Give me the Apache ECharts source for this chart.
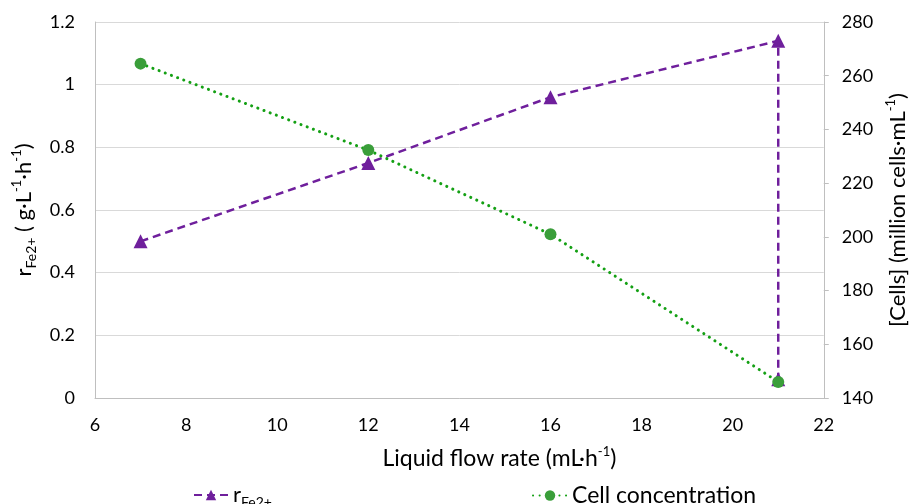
<!DOCTYPE html>
<html>
<head>
<meta charset="utf-8">
<script src="https://cdn.jsdelivr.net/npm/echarts@6/dist/echarts.min.js"></script>
<style>
  html, body { margin: 0; padding: 0; background: #fff; }
  #chart { width: 917px; height: 504px; }
</style>
</head>
<body>
<div id="chart"></div>
<script>
// Liquid flow rate (mL·h-1)
const flowRate = [7, 12, 16, 21, 21];
// Fe2+ oxidation rate (g·L-1·h-1), same x positions as flowRate
const rateFe = [0.5, 0.75, 0.96, 1.14, 0.06];
// Cell concentration (million cells·mL-1)
const cellFlow = [7, 12, 16, 21];
const cellConc = [264.5, 232.3, 201, 146];

const xTicks = { min: 6, max: 22, interval: 2 };
const yLeftTicks = { min: 0, max: 1.2, interval: 0.2 };
const yRightTicks = { min: 140, max: 280, interval: 20 };

const FONT = 'Lato';
const PURPLE = '#6f1f9c';
const GREEN_LINE = '#14a014';
const GREEN_DOT = '#3a9e3a';
const AXIS_GREY = '#bfbfbf';
const GRID_GREY = '#d9d9d9';

const chart = echarts.init(document.getElementById('chart'), null, { renderer: 'canvas' });

const supStyle = { fontFamily: FONT, fontSize: 13, color: '#000', verticalAlign: 'top', lineHeight: 28 };
const subStyle = { fontFamily: FONT, fontSize: 14, color: '#000', verticalAlign: 'bottom', lineHeight: 28, padding: [11, 0, 0, 0] };
const nStyle = { fontFamily: FONT, fontSize: 22, color: '#000', lineHeight: 28 };

chart.setOption({
  animation: false,
  backgroundColor: '#fff',
  textStyle: { fontFamily: FONT },
  grid: { left: 95, right: 88, top: 22, bottom: 106, containLabel: false },
  legend: [
    {
      data: ['rFe2+'],
      left: 188, top: 479,
      itemWidth: 34, itemHeight: 13,
      formatter: () => '{r|r}{sub|Fe2+}',
      textStyle: { fontFamily: FONT, fontSize: 22, color: '#000', rich: { r: nStyle, sub: subStyle } }
    },
    {
      data: ['Cell concentration'],
      left: 527, top: 479,
      itemWidth: 34, itemHeight: 13,
      textStyle: { fontFamily: FONT, fontSize: 23, color: '#000' }
    }
  ],
  xAxis: {
    type: 'value',
    min: xTicks.min, max: xTicks.max, interval: xTicks.interval,
    name: 'Liquid flow rate (mL·h{sup|-1})',
    nameLocation: 'middle', nameGap: 47,
    nameTextStyle: {
      fontFamily: FONT, fontSize: 23, color: '#000',
      padding: [0, 0, 0, 80],
      rich: { sup: supStyle }
    },
    axisLine: { show: true, lineStyle: { color: AXIS_GREY, width: 1 } },
    axisTick: { show: false },
    splitLine: { show: false },
    axisLabel: { fontFamily: FONT, fontSize: 18, color: '#000', margin: 18 }
  },
  yAxis: [
    {
      type: 'value', position: 'left',
      min: yLeftTicks.min, max: yLeftTicks.max, interval: yLeftTicks.interval,
      name: '{r|r}{sub|Fe2+}{n| ( g·L}{sup|-1}{n|·h}{sup|-1}{n|)}',
      nameLocation: 'middle', nameRotate: 90, nameGap: 57,
      nameTextStyle: { rich: { r: nStyle, n: nStyle, sub: subStyle, sup: supStyle } },
      axisLine: { show: true, lineStyle: { color: AXIS_GREY, width: 1 } },
      axisTick: { show: false },
      splitLine: { show: true, lineStyle: { color: GRID_GREY, width: 1 } },
      axisLabel: {
        fontFamily: FONT, fontSize: 18, color: '#000', margin: 20,
        formatter: v => String(Math.round(v * 10) / 10)
      }
    },
    {
      type: 'value', position: 'right',
      min: yRightTicks.min, max: yRightTicks.max, interval: yRightTicks.interval,
      name: '[Cells] (million cells·mL{sup|-1})',
      nameLocation: 'middle', nameRotate: 90, nameGap: 59,
      nameTextStyle: { fontFamily: FONT, fontSize: 22, color: '#000', rich: { sup: supStyle } },
      axisLine: { show: true, lineStyle: { color: AXIS_GREY, width: 1 } },
      axisTick: { show: true, inside: false, length: 5, lineStyle: { color: AXIS_GREY } },
      splitLine: { show: false },
      axisLabel: { fontFamily: FONT, fontSize: 18, color: '#000', margin: 18 }
    }
  ],
  series: [
    {
      name: 'rFe2+',
      type: 'line',
      yAxisIndex: 0,
      data: flowRate.map((x, i) => [x, rateFe[i]]),
      symbol: 'triangle', symbolSize: 14,
      itemStyle: { color: PURPLE },
      lineStyle: { color: PURPLE, width: 2.5, type: [8, 5] },
      z: 3
    },
    {
      name: 'Cell concentration',
      type: 'line',
      yAxisIndex: 1,
      data: cellFlow.map((x, i) => [x, cellConc[i]]),
      symbol: 'circle', symbolSize: 12,
      itemStyle: { color: GREEN_DOT },
      lineStyle: { color: GREEN_LINE, width: 3, type: [0.1, 6.5], cap: 'round' },
      z: 4
    }
  ]
});
</script>
</body>
</html>
